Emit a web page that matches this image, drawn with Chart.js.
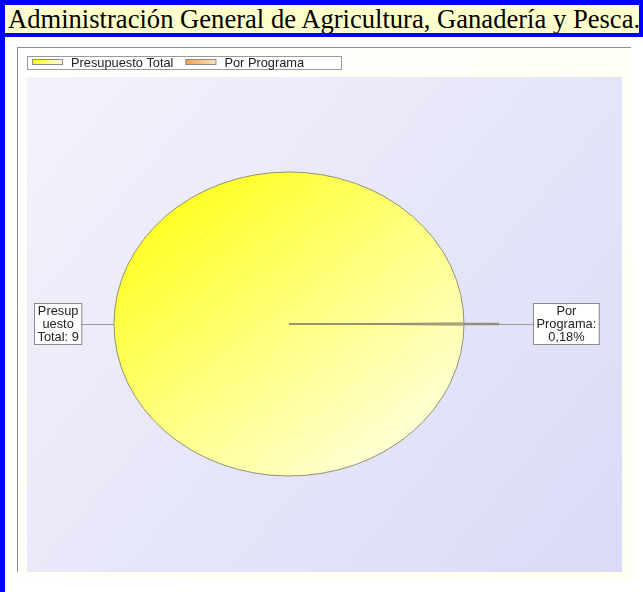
<!DOCTYPE html>
<html>
<head>
<meta charset="utf-8">
<script src="https://cdn.jsdelivr.net/npm/chart.js@4.4.1/dist/chart.umd.min.js"></script>
<style>
  html, body { margin: 0; padding: 0; background: #fff; width: 643px; height: 592px; overflow: hidden; }
  .blue { position: absolute; background: #0000ff; }
  #title {
    position: absolute; left: 5px; top: 5px; width: 631px; height: 28px; padding-left: 3px;
    background: #ffffcc; color: #000; white-space: nowrap; overflow: hidden;
    font-family: "Liberation Serif", "Times New Roman", serif; font-size: 26.6px; line-height: 29px;
  }
  #pie { position: absolute; left: 17px; top: 47px; }
</style>
</head>
<body>
<div class="blue" style="left:0;top:0;width:643px;height:5px"></div>
<div class="blue" style="left:0;top:0;width:5px;height:592px"></div>
<div class="blue" style="left:639px;top:0;width:4px;height:37px"></div>
<div class="blue" style="left:0;top:33px;width:643px;height:4px"></div>
<div id="title">Administración General de Agricultura, Ganadería y Pesca.</div>
<canvas id="pie" width="615" height="531" style="width:615px;height:531px"></canvas>
<script>
// data
const labels = ["Presupuesto Total", "Por Programa"];
const values = [99.82, 0.18];
// callout texts as they appear (the left one is cut off in the original)
const callouts = [["Presup", "uesto", "Total: 9"], ["Por", "Programa:", "0,18%"]];
// gradient colours per slice: [bright, middle, pale]
const sliceColors = [["#ffff14", "#ffff80", "#ffffe4"], ["#f2a04a", "#f8c080", "#fde4bc"]];

const FONT = '12.8px "Liberation Sans", Arial, sans-serif';
const squash = 152 / 175; // the pie is drawn as an ellipse

function sliceFill(c) {
  const chart = c.chart;
  const a = chart.chartArea;
  const cols = sliceColors[c.dataIndex];
  if (!a) return cols[0];
  const cx = (a.left + a.right) / 2, cy = (a.top + a.bottom) / 2, r = 175;
  const g = chart.ctx.createLinearGradient(cx - r * 0.8, cy - r * 0.9, cx + r * 0.8, cy + r * 0.9);
  g.addColorStop(0, cols[0]);
  g.addColorStop(0.5, cols[1]);
  g.addColorStop(1, cols[2]);
  return g;
}

const panel = {
  id: "panel",
  beforeDraw(chart) {
    const { ctx, width, height } = chart;
    ctx.save();
    // cream panel
    let g = ctx.createLinearGradient(0, 0, width, height);
    g.addColorStop(0, "#ffffff");
    g.addColorStop(1, "#fffff0");
    ctx.fillStyle = g;
    ctx.fillRect(0, 0, width, height);
    // lavender plot background
    g = ctx.createLinearGradient(10, 30, 604, 525);
    g.addColorStop(0, "#f3f3fb");
    g.addColorStop(1, "#dadaf8");
    ctx.fillStyle = g;
    ctx.fillRect(10, 30, 595, 495);
    // grey frame on top and left
    ctx.strokeStyle = "#8c8c8c";
    ctx.lineWidth = 1;
    ctx.beginPath();
    ctx.moveTo(0.5, height - 6);
    ctx.lineTo(0.5, 0.5);
    ctx.lineTo(width - 1, 0.5);
    ctx.stroke();

    // legend
    ctx.fillStyle = "#ffffff";
    ctx.fillRect(10, 9, 314, 13);
    ctx.strokeStyle = "#9a9a9a";
    ctx.strokeRect(10.5, 9.5, 314, 13);
    ctx.font = FONT;
    ctx.textBaseline = "middle";
    let x = 15;
    labels.forEach((lab, i) => {
      const sg = ctx.createLinearGradient(x, 0, x + 31, 0);
      sg.addColorStop(0, sliceColors[i][0]);
      sg.addColorStop(1, sliceColors[i][2]);
      ctx.fillStyle = sg;
      ctx.fillRect(x, 12, 31, 6);
      ctx.strokeStyle = "#8a8a8a";
      ctx.strokeRect(x + 0.5, 12.5, 30, 5);
      ctx.fillStyle = "#222";
      ctx.fillText(lab, x + 39, 16);
      x += 39 + ctx.measureText(lab).width + 12;
    });
    ctx.restore();
  },
  beforeDatasetsDraw(chart) {
    const arc = chart.getDatasetMeta(0).data[0];
    const ctx = chart.ctx;
    ctx.save();
    ctx.translate(arc.x, arc.y);
    ctx.scale(1, squash);
    ctx.translate(-arc.x, -arc.y);
  },
  afterDatasetsDraw(chart) {
    const ctx = chart.ctx;
    ctx.restore();
    ctx.save();
    ctx.font = FONT;
    ctx.textAlign = "center";
    ctx.textBaseline = "middle";
    chart.getDatasetMeta(0).data.forEach((arc, i) => {
      const mid = (arc.startAngle + arc.endAngle) / 2;
      const ax = arc.x + arc.outerRadius * Math.cos(mid);
      const ay = arc.y + arc.outerRadius * Math.sin(mid) * squash;
      const right = Math.cos(mid) >= 0;
      const lines = callouts[i];
      const w = Math.max(...lines.map(t => ctx.measureText(t).width)) + 6;
      const h = lines.length * 13 + 2;
      let bx;
      if (right) {
        ctx.lineWidth = 2.5;
        ctx.strokeStyle = "#8f8f84";
        ctx.beginPath(); ctx.moveTo(ax, ay); ctx.lineTo(ax + 35, ay); ctx.stroke();
        ctx.lineWidth = 1;
        ctx.strokeStyle = "#9a9a9a";
        ctx.beginPath(); ctx.moveTo(ax + 35, ay + 0.5); ctx.lineTo(ax + 69, ay + 0.5); ctx.stroke();
        bx = ax + 69;
      } else {
        ctx.lineWidth = 1;
        ctx.strokeStyle = "#9a9a9a";
        ctx.beginPath(); ctx.moveTo(ax, ay + 0.5); ctx.lineTo(ax - 33, ay + 0.5); ctx.stroke();
        bx = ax - 33 - w;
      }
      const by = Math.round(ay - h / 2);
      bx = Math.round(bx);
      ctx.fillStyle = "#ffffff";
      ctx.fillRect(bx, by, w, h);
      ctx.strokeStyle = "#8a8a8a";
      ctx.lineWidth = 1;
      ctx.strokeRect(bx + 0.5, by + 0.5, w, h);
      ctx.fillStyle = "#222";
      lines.forEach((t, k) => ctx.fillText(t, bx + w / 2 + 0.5, by + 8 + k * 13));
    });
    ctx.restore();
  }
};

new Chart(document.getElementById("pie"), {
  type: "pie",
  data: {
    labels: labels,
    datasets: [{
      data: values,
      backgroundColor: sliceFill,
      borderColor: "#8c8c6c",
      borderWidth: 1,
      radius: 175
    }]
  },
  options: {
    responsive: false,
    devicePixelRatio: 1,
    animation: false,
    rotation: 90 + (values[1] / 100 * 360) / 2,
    layout: { padding: { left: 97, right: 168, top: 102, bottom: 79 } },
    plugins: {
      legend: { display: false },
      tooltip: { enabled: false }
    }
  },
  plugins: [panel]
});
</script>
</body>
</html>
